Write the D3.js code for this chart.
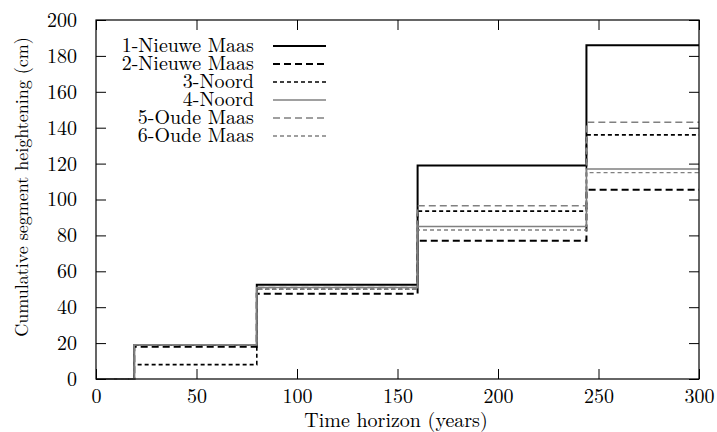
<!DOCTYPE html>
<html>
<head>
<meta charset="utf-8">
<script src="https://cdn.jsdelivr.net/npm/d3@7"></script>
<style>
  html, body { margin: 0; padding: 0; background: #fff; }
</style>
</head>
<body>
<svg id="chart" width="717" height="432"></svg>
<script>
// Years at which each heightening step takes place
const stepYears = [0, 19, 80, 160, 244, 300];

// Cumulative heightening (cm) after each step, per segment
const seriesNames = ["1-Nieuwe Maas", "2-Nieuwe Maas", "3-Noord", "4-Noord", "5-Oude Maas", "6-Oude Maas"];
const nieuweMaas1 = [0, 19, 52.5, 119, 186, 186];
const nieuweMaas2 = [0, 18, 47.5, 77, 105.5, 105.5];
const noord3      = [0, 8, 50, 93.5, 136, 136];
const noord4      = [0, 19, 51, 85, 117, 117];
const oudeMaas5   = [0, 19, 51, 96.5, 143, 143];
const oudeMaas6   = [0, 19, 50, 83, 115, 115];

const xTicks = [0, 50, 100, 150, 200, 250, 300];
const yTicks = [0, 20, 40, 60, 80, 100, 120, 140, 160, 180, 200];

const seriesValues = [nieuweMaas1, nieuweMaas2, noord3, noord4, oudeMaas5, oudeMaas6];
const styles = [
  { color: "#000", width: 2.0, dash: null },
  { color: "#000", width: 2.0, dash: "7,4" },
  { color: "#000", width: 1.6, dash: "4,3" },
  { color: "#808080", width: 1.6, dash: null },
  { color: "#808080", width: 1.6, dash: "7,4" },
  { color: "#808080", width: 1.4, dash: "4,3" }
];

const FONT = "Latin Modern Roman";
const FS = 20;

const svg = d3.select("#chart");
const plotL = 96, plotR = 699, plotT = 20, plotB = 379;

const x = d3.scaleLinear().domain([0, 300]).range([plotL, plotR]);
const y = d3.scaleLinear().domain([0, 200]).range([plotB, plotT]);

const line = d3.line()
  .x(d => x(d[0]))
  .y(d => y(d[1]))
  .curve(d3.curveStepAfter);

// Step series
seriesValues.forEach((vals, i) => {
  const pts = stepYears.map((t, k) => [t, vals[k]]);
  svg.append("path")
    .attr("d", line(pts))
    .attr("fill", "none")
    .attr("stroke", styles[i].color)
    .attr("stroke-width", styles[i].width)
    .attr("stroke-dasharray", styles[i].dash);
});

// Axes with inward ticks, mirrored on top and right
const tickLen = 10;
const axisStyle = g => {
  g.attr("font-family", FONT).attr("font-size", FS);
  g.select(".domain").remove();
  g.selectAll(".tick line").attr("stroke", "#000").attr("stroke-width", 1);
  g.selectAll(".tick text").attr("fill", "#000");
};

svg.append("g").attr("transform", `translate(0,${plotB})`)
  .call(d3.axisBottom(x).tickValues(xTicks).tickSizeInner(-tickLen).tickSizeOuter(0).tickPadding(10).tickFormat(d3.format("d")))
  .call(axisStyle);
svg.append("g").attr("transform", `translate(0,${plotT})`)
  .call(d3.axisTop(x).tickValues(xTicks).tickSizeInner(-tickLen).tickSizeOuter(0).tickFormat(""))
  .call(axisStyle);
svg.append("g").attr("transform", `translate(${plotL},0)`)
  .call(d3.axisLeft(y).tickValues(yTicks).tickSizeInner(-tickLen).tickSizeOuter(0).tickPadding(19).tickFormat(d3.format("d")))
  .call(axisStyle);
svg.append("g").attr("transform", `translate(${plotR},0)`)
  .call(d3.axisRight(y).tickValues(yTicks).tickSizeInner(-tickLen).tickSizeOuter(0).tickFormat(""))
  .call(axisStyle);

// Frame
svg.append("rect")
  .attr("x", plotL).attr("y", plotT)
  .attr("width", plotR - plotL).attr("height", plotB - plotT)
  .attr("fill", "none").attr("stroke", "#000").attr("stroke-width", 1.2);

// Axis titles
svg.append("text")
  .attr("x", 396).attr("y", 427)
  .attr("text-anchor", "middle")
  .attr("font-family", FONT).attr("font-size", FS)
  .text("Time horizon (years)");
svg.append("text")
  .attr("transform", `translate(28,187) rotate(-90)`)
  .attr("text-anchor", "middle")
  .attr("font-family", FONT).attr("font-size", 18)
  .text("Cumulative segment heightening (cm)");

// Legend
const legend = svg.append("g");
seriesNames.forEach((name, i) => {
  const ly = 46 + i * 18;
  legend.append("text")
    .attr("x", 254).attr("y", ly + 6)
    .attr("text-anchor", "end")
    .attr("font-family", FONT).attr("font-size", FS)
    .text(name);
  legend.append("line")
    .attr("x1", 273).attr("x2", 326)
    .attr("y1", ly).attr("y2", ly)
    .attr("stroke", styles[i].color)
    .attr("stroke-width", styles[i].width)
    .attr("stroke-dasharray", styles[i].dash);
});
</script>
</body>
</html>
